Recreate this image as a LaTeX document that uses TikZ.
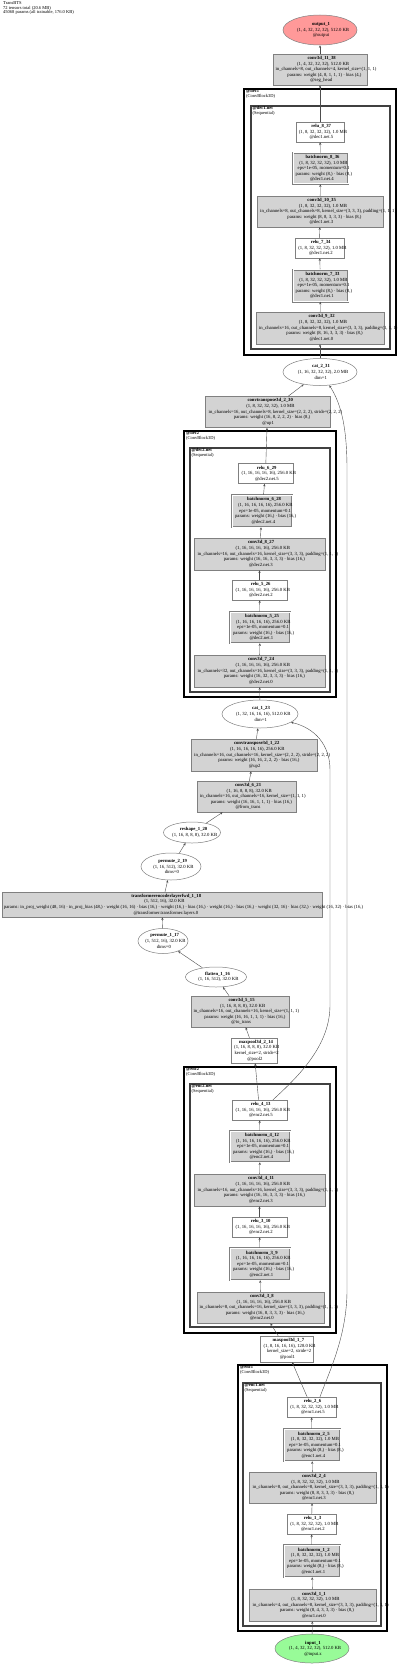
\documentclass[tikz,border=0pt]{standalone}
\usepackage{fontspec}
\setmainfont{Liberation Serif}
\usetikzlibrary{shapes.geometric,arrows.meta}
\definecolor{modfill}{HTML}{D3D3D3}
\definecolor{boxc}{HTML}{808080}
\definecolor{edgec}{HTML}{4D4D4D}
\definecolor{outfill}{HTML}{FF9999}
\definecolor{infill}{HTML}{98FB98}
\newcommand\nf{\fontsize{4.7}{5.6}\selectfont}
\newcommand\cf{\fontsize{4.5}{4.6}\selectfont}
\newlength\lnw
\newcommand\Ln[1]{\settowidth\lnw{#1}\makebox[0pt]{\hspace*{0.12\lnw}#1}}
\newcommand\Tn[1]{\Ln{\textbf{#1}}}
\newcommand\kpad[2]{in\_channels=#1, out\_channels=#2, kernel\_size=(3, 3, 3), padding=(1, 1, 1)}
\newcommand\bnargs{eps=1e-05, momentum=0.1}
\begin{document}
\begin{tikzpicture}[x=1pt,y=-1pt,
  lbl/.style={font=\nf, align=center, inner sep=0pt},
  sz/.style 2 args={minimum width=#1pt, minimum height=#2pt},
  mod/.style={lbl, rectangle, draw=boxc, fill=modfill, line width=0.5pt},
  plain/.style={lbl, rectangle, draw=boxc, fill=white, line width=0.5pt},
  bn/.style={mod, double=white, double distance=1pt},
  fn/.style={lbl, ellipse, draw=boxc, fill=white, line width=0.5pt},
  edge/.style={-{Stealth[length=2.6pt,width=2.2pt]}, draw=edgec, line width=0.4pt},
  outerc/.style={draw=black, line width=2pt},
  innerc/.style={draw=black!75, line width=1.5pt},
  clab/.style={font=\cf, align=left, anchor=north west, inner sep=0pt}]
\useasboundingbox (0,0) rectangle (400,1664);

\node[anchor=north west, align=left, inner sep=0pt, font=\cf] (title) at (3,1.5)
  {TransBTS\\72 tensors total (20.6 MB)\\45068 params (all trainable, 176.0 KB)};

% ---------- clusters ----------
\draw[outerc] (244,89) rectangle (396,355);
\draw[innerc] (251,106) rectangle (390,349);
\node[clab] (dec1lab) at (246,89.5) {\textbf{@dec1}\\(ConvBlock3D)};
\node[clab] (dec1netlab) at (252.5,106.5) {\textbf{@dec1.net}\\(Sequential)};

\draw[outerc] (184,431) rectangle (336,697);
\draw[innerc] (190,448) rectangle (330,692);
\node[clab] (dec2lab) at (186,431.5) {\textbf{@dec2}\\(ConvBlock3D)};
\node[clab] (dec2netlab) at (191.5,448.5) {\textbf{@dec2.net}\\(Sequential)};

\draw[outerc] (184,1067) rectangle (336,1333);
\draw[innerc] (190,1084) rectangle (330,1327);
\node[clab] (enc2lab) at (186,1067.5) {\textbf{@enc2}\\(ConvBlock3D)};
\node[clab] (enc2netlab) at (191.5,1084.5) {\textbf{@enc2.net}\\(Sequential)};

\draw[outerc] (238,1365) rectangle (387,1631);
\draw[innerc] (243,1383) rectangle (381,1626);
\node[clab] (enc1lab) at (240,1365.5) {\textbf{@enc1}\\(ConvBlock3D)};
\node[clab] (enc1netlab) at (244.5,1383.5) {\textbf{@enc1.net}\\(Sequential)};

% ---------- nodes ----------
\node[fn, fill=outfill, sz={74}{30}] (out1) at (320,30)
  {\Tn{output\_1}\\\Ln{(1, 4, 32, 32, 32), 512.0 KB}\\\Ln{@output}};
\node[mod, sz={94}{31}] (conv11) at (320,69.5)
  {\Tn{conv3d\_11\_38}\\\Ln{(1, 4, 32, 32, 32), 512.0 KB}\\\Ln{in\_channels=8, out\_channels=4, kernel\_size=(1, 1, 1)}\\\Ln{params: weight (4, 8, 1, 1, 1) · bias (4,)}\\\Ln{@seg\_head}};
\node[plain, sz={48}{20}] (relu8) at (320,132)
  {\Tn{relu\_8\_37}\\\Ln{(1, 8, 32, 32, 32), 1.0 MB}\\\Ln{@dec1.net.5}};
\node[bn, sz={55}{31}] (bn8) at (320.5,168.5)
  {\Tn{batchnorm\_8\_36}\\\Ln{(1, 8, 32, 32, 32), 1.0 MB}\\\Ln{\bnargs}\\\Ln{params: weight (8,) · bias (8,)}\\\Ln{@dec1.net.4}};
\node[mod, sz={126}{31}] (conv10) at (320,211.5)
  {\Tn{conv3d\_10\_35}\\\Ln{(1, 8, 32, 32, 32), 1.0 MB}\\\Ln{\kpad{8}{8}}\\\Ln{params: weight (8, 8, 3, 3, 3) · bias (8,)}\\\Ln{@dec1.net.3}};
\node[plain, sz={49}{20}] (relu7) at (319.5,248)
  {\Tn{relu\_7\_34}\\\Ln{(1, 8, 32, 32, 32), 1.0 MB}\\\Ln{@dec1.net.2}};
\node[bn, sz={55}{32}] (bn7) at (320.5,285.5)
  {\Tn{batchnorm\_7\_33}\\\Ln{(1, 8, 32, 32, 32), 1.0 MB}\\\Ln{\bnargs}\\\Ln{params: weight (8,) · bias (8,)}\\\Ln{@dec1.net.1}};
\node[mod, sz={128}{32}] (conv9) at (320,328)
  {\Tn{conv3d\_9\_32}\\\Ln{(1, 8, 32, 32, 32), 1.0 MB}\\\Ln{\kpad{16}{8}}\\\Ln{params: weight (8, 16, 3, 3, 3) · bias (8,)}\\\Ln{@dec1.net.0}};
\node[fn, sz={74}{27}] (cat2) at (320,372)
  {\Tn{cat\_2\_31}\\\Ln{(1, 16, 32, 32, 32), 2.0 MB}\\\Ln{dim=1}};
\node[mod, sz={125}{31}] (ct2) at (267.5,412)
  {\Tn{convtranspose3d\_2\_30}\\\Ln{(1, 8, 32, 32, 32), 1.0 MB}\\\Ln{in\_channels=16, out\_channels=8, kernel\_size=(2, 2, 2), stride=(2, 2, 2)}\\\Ln{params: weight (16, 8, 2, 2, 2) · bias (8,)}\\\Ln{@up1}};

\node[plain, sz={55}{20}] (relu6) at (265.5,473.5)
  {\Tn{relu\_6\_29}\\\Ln{(1, 16, 16, 16, 16), 256.0 KB}\\\Ln{@dec2.net.5}};
\node[bn, sz={60}{32}] (bn6) at (262,511)
  {\Tn{batchnorm\_6\_28}\\\Ln{(1, 16, 16, 16, 16), 256.0 KB}\\\Ln{\bnargs}\\\Ln{params: weight (16,) · bias (16,)}\\\Ln{@dec2.net.4}};
\node[mod, sz={131}{32}] (conv8) at (259.5,554)
  {\Tn{conv3d\_8\_27}\\\Ln{(1, 16, 16, 16, 16), 256.0 KB}\\\Ln{\kpad{16}{16}}\\\Ln{params: weight (16, 16, 3, 3, 3) · bias (16,)}\\\Ln{@dec2.net.3}};
\node[plain, sz={55}{20}] (relu5) at (259.5,590)
  {\Tn{relu\_5\_26}\\\Ln{(1, 16, 16, 16, 16), 256.0 KB}\\\Ln{@dec2.net.2}};
\node[bn, sz={60}{31}] (bn5) at (260,627.5)
  {\Tn{batchnorm\_5\_25}\\\Ln{(1, 16, 16, 16, 16), 256.0 KB}\\\Ln{\bnargs}\\\Ln{params: weight (16,) · bias (16,)}\\\Ln{@dec2.net.1}};
\node[mod, sz={131}{32}] (conv7) at (259.5,671)
  {\Tn{conv3d\_7\_24}\\\Ln{(1, 16, 16, 16, 16), 256.0 KB}\\\Ln{\kpad{32}{16}}\\\Ln{params: weight (16, 32, 3, 3, 3) · bias (16,)}\\\Ln{@dec2.net.0}};
\node[fn, sz={76}{28}] (cat1) at (260,714)
  {\Tn{cat\_1\_23}\\\Ln{(1, 32, 16, 16, 16), 512.0 KB}\\\Ln{dim=1}};
\node[mod, sz={126}{32}] (ct1) at (254,755)
  {\Tn{convtranspose3d\_1\_22}\\\Ln{(1, 16, 16, 16, 16), 256.0 KB}\\\Ln{in\_channels=16, out\_channels=16, kernel\_size=(2, 2, 2), stride=(2, 2, 2)}\\\Ln{params: weight (16, 16, 2, 2, 2) · bias (16,)}\\\Ln{@up2}};
\node[mod, sz={99}{31}] (conv6) at (246.5,796.5)
  {\Tn{conv3d\_6\_21}\\\Ln{(1, 16, 8, 8, 8), 32.0 KB}\\\Ln{in\_channels=16, out\_channels=16, kernel\_size=(1, 1, 1)}\\\Ln{params: weight (16, 16, 1, 1, 1) · bias (16,)}\\\Ln{@from\_trans}};
\node[fn, sz={57}{21}] (reshape1) at (192,832.5)
  {\Tn{reshape\_1\_20}\\\Ln{(1, 16, 8, 8, 8), 32.0 KB}};
\node[fn, sz={60}{27}] (permute2) at (171,866.5)
  {\Tn{permute\_2\_19}\\\Ln{(1, 16, 512), 32.0 KB}\\\Ln{dims=0}};
\node[mod, sz={320}{25}] (trans1) at (162,904.5)
  {\Tn{transformerencoderlayerfwd\_1\_18}\\\Ln{(1, 512, 16), 32.0 KB}\\\Ln{params: in\_proj\_weight (48, 16) · in\_proj\_bias (48,) · weight (16, 16) · bias (16,) · weight (16,) · bias (16,) · weight (16,) · bias (16,) · weight (32, 16) · bias (32,) · weight (16, 32) · bias (16,)}\\\Ln{@transformer.transformer.layers.0}};
\node[fn, sz={50}{25}] (permute1) at (163,941)
  {\Tn{permute\_1\_17}\\\Ln{(1, 512, 16), 32.0 KB}\\\Ln{dims=0}};
\node[fn, sz={61}{20}] (flatten1) at (216,977)
  {\Tn{flatten\_1\_16}\\\Ln{(1, 16, 512), 32.0 KB}};
\node[mod, sz={98}{31}] (conv5) at (240,1011.5)
  {\Tn{conv3d\_5\_15}\\\Ln{(1, 16, 8, 8, 8), 32.0 KB}\\\Ln{in\_channels=16, out\_channels=16, kernel\_size=(1, 1, 1)}\\\Ln{params: weight (16, 16, 1, 1, 1) · bias (16,)}\\\Ln{@to\_trans}};
\node[plain, sz={46}{25}] (mp2) at (254,1050.5)
  {\Tn{maxpool3d\_2\_14}\\\Ln{(1, 16, 8, 8, 8), 32.0 KB}\\\Ln{kernel\_size=2, stride=2}\\\Ln{@pool2}};

\node[plain, sz={55}{20}] (relu4) at (259.5,1110)
  {\Tn{relu\_4\_13}\\\Ln{(1, 16, 16, 16, 16), 256.0 KB}\\\Ln{@enc2.net.5}};
\node[bn, sz={60}{31}] (bn4) at (260,1146.5)
  {\Tn{batchnorm\_4\_12}\\\Ln{(1, 16, 16, 16, 16), 256.0 KB}\\\Ln{\bnargs}\\\Ln{params: weight (16,) · bias (16,)}\\\Ln{@enc2.net.4}};
\node[mod, sz={131}{32}] (conv4) at (259.5,1190)
  {\Tn{conv3d\_4\_11}\\\Ln{(1, 16, 16, 16, 16), 256.0 KB}\\\Ln{\kpad{16}{16}}\\\Ln{params: weight (16, 16, 3, 3, 3) · bias (16,)}\\\Ln{@enc2.net.3}};
\node[plain, sz={55}{20}] (relu3) at (259.5,1227)
  {\Tn{relu\_3\_10}\\\Ln{(1, 16, 16, 16, 16), 256.0 KB}\\\Ln{@enc2.net.2}};
\node[bn, sz={60}{32}] (bn3) at (260,1264)
  {\Tn{batchnorm\_3\_9}\\\Ln{(1, 16, 16, 16, 16), 256.0 KB}\\\Ln{\bnargs}\\\Ln{params: weight (16,) · bias (16,)}\\\Ln{@enc2.net.1}};
\node[mod, sz={127}{31}] (conv3) at (260.5,1307.5)
  {\Tn{conv3d\_3\_8}\\\Ln{(1, 16, 16, 16, 16), 256.0 KB}\\\Ln{\kpad{8}{16}}\\\Ln{params: weight (16, 8, 3, 3, 3) · bias (16,)}\\\Ln{@enc2.net.0}};
\node[plain, sz={53}{26}] (mp1) at (286.5,1349)
  {\Tn{maxpool3d\_1\_7}\\\Ln{(1, 8, 16, 16, 16), 128.0 KB}\\\Ln{kernel\_size=2, stride=2}\\\Ln{@pool1}};

\node[plain, sz={49}{20}] (relu2) at (311.5,1407)
  {\Tn{relu\_2\_6}\\\Ln{(1, 8, 32, 32, 32), 1.0 MB}\\\Ln{@enc1.net.5}};
\node[bn, sz={56}{32}] (bn2) at (312,1445)
  {\Tn{batchnorm\_2\_5}\\\Ln{(1, 8, 32, 32, 32), 1.0 MB}\\\Ln{\bnargs}\\\Ln{params: weight (8,) · bias (8,)}\\\Ln{@enc1.net.4}};
\node[mod, sz={127}{31}] (conv2) at (312.5,1487.5)
  {\Tn{conv3d\_2\_4}\\\Ln{(1, 8, 32, 32, 32), 1.0 MB}\\\Ln{\kpad{8}{8}}\\\Ln{params: weight (8, 8, 3, 3, 3) · bias (8,)}\\\Ln{@enc1.net.3}};
\node[plain, sz={49}{20}] (relu1) at (311.5,1524)
  {\Tn{relu\_1\_3}\\\Ln{(1, 8, 32, 32, 32), 1.0 MB}\\\Ln{@enc1.net.2}};
\node[bn, sz={56}{32}] (bn1) at (312,1561)
  {\Tn{batchnorm\_1\_2}\\\Ln{(1, 8, 32, 32, 32), 1.0 MB}\\\Ln{\bnargs}\\\Ln{params: weight (8,) · bias (8,)}\\\Ln{@enc1.net.1}};
\node[mod, sz={127}{32}] (conv1) at (312.5,1605)
  {\Tn{conv3d\_1\_1}\\\Ln{(1, 8, 32, 32, 32), 1.0 MB}\\\Ln{\kpad{4}{8}}\\\Ln{params: weight (8, 4, 3, 3, 3) · bias (8,)}\\\Ln{@enc1.net.0}};
\node[fn, fill=infill, sz={74}{29}] (in1) at (312,1648.5)
  {\Tn{input\_1}\\\Ln{(1, 4, 32, 32, 32), 512.0 KB}\\\Ln{@input.x}};

% ---------- edges ----------
\draw[edge] (in1) -- (conv1);
\draw[edge] (conv1) -- (bn1);
\draw[edge] (bn1) -- (relu1);
\draw[edge] (relu1) -- (conv2);
\draw[edge] (conv2) -- (bn2);
\draw[edge] (bn2) -- (relu2);
\draw[edge] (relu2) -- (mp1);
\draw[edge] (mp1) -- (conv3);
\draw[edge] (conv3) -- (bn3);
\draw[edge] (bn3) -- (relu3);
\draw[edge] (relu3) -- (conv4);
\draw[edge] (conv4) -- (bn4);
\draw[edge] (bn4) -- (relu4);
\draw[edge] (relu4) -- (mp2);
\draw[edge] (mp2) -- (conv5);
\draw[edge] (conv5) -- (flatten1);
\draw[edge] (flatten1) -- (permute1);
\draw[edge] (permute1) -- (trans1);
\draw[edge] (trans1) -- (permute2);
\draw[edge] (permute2) -- (reshape1);
\draw[edge] (reshape1) -- (conv6);
\draw[edge] (conv6) -- (ct1);
\draw[edge] (ct1) -- (cat1);
\draw[edge] (cat1) -- (conv7);
\draw[edge] (conv7) -- (bn5);
\draw[edge] (bn5) -- (relu5);
\draw[edge] (relu5) -- (conv8);
\draw[edge] (conv8) -- (bn6);
\draw[edge] (bn6) -- (relu6);
\draw[edge] (relu6) -- (ct2);
\draw[edge] (ct2) -- (cat2);
\draw[edge] (cat2) -- (conv9);
\draw[edge] (conv9) -- (bn7);
\draw[edge] (bn7) -- (relu7);
\draw[edge] (relu7) -- (conv10);
\draw[edge] (conv10) -- (bn8);
\draw[edge] (bn8) -- (relu8);
\draw[edge] (relu8) -- (conv11);
\draw[edge] (conv11) -- (out1);

% skip connections
\coordinate (s1a) at (347,1290);
\coordinate (s1b) at (347,470);
\draw[edge] ([xshift=8.5pt]relu2.north) .. controls (330,1370) and (347,1335) .. (s1a)
  -- (s1b) .. controls (347,430) and (342,405) .. (cat2.-55);
\coordinate (s2a) at (330,1005);
\coordinate (s2b) at (330,770);
\draw[edge] ([xshift=13.5pt]relu4.north) .. controls (300,1075) and (330,1045) .. (s2a)
  -- (s2b) .. controls (330,745) and (315,728) .. (cat1.-15);
\end{tikzpicture}
\end{document}
